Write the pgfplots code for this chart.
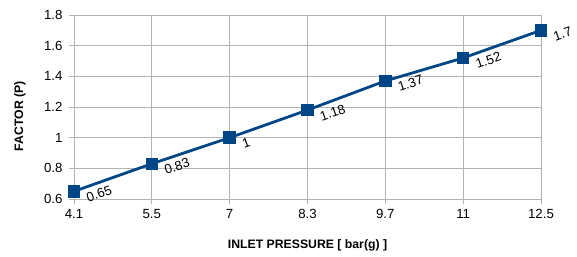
\documentclass[border=0pt]{standalone}
\usepackage{pgfplots}
\pgfplotsset{compat=1.18}
\usepackage{fontspec}
\setmainfont{Liberation Sans}
\definecolor{lineblue}{HTML}{004586}
\definecolor{gridgray}{HTML}{B3B3B3}
\begin{document}
\begin{tikzpicture}
\useasboundingbox (-74bp,-58bp) rectangle (503bp,199bp);
\begin{axis}[
  at={(0,0)}, anchor=south west,
  scale only axis, width=467bp, height=184bp,
  xmin=0, xmax=6, ymin=0.6, ymax=1.8,
  xtick={0,1,2,3,4,5,6},
  xticklabels={4.1,5.5,7,8.3,9.7,11,12.5},
  ytick={0.6,0.8,1,1.2,1.4,1.6,1.8},
  yticklabels={0.6,0.8,1,1.2,1.4,1.6,1.8},
  xtick pos=bottom, ytick pos=left,
  tick align=outside, major tick length=5bp,
  tick style={gridgray, line width=0.8pt},
  grid=major, grid style={gridgray, line width=0.8pt},
  axis line style={gridgray, line width=0.8pt},
  ticklabel style={font=\fontsize{13.3}{15}\selectfont, text=black},
  xticklabel style={yshift=-2bp},
  yticklabel style={xshift=-3bp},
  /pgf/number format/assume math mode=true,
  xlabel={\textbf{INLET PRESSURE [ bar(g) ]}},
  ylabel={\textbf{FACTOR (P)}},
  label style={font=\fontsize{12.3}{14}\selectfont},
  xlabel style={at={(axis description cs:0.5,0)}, anchor=center, yshift=-46bp},
  ylabel style={at={(axis description cs:0,0.45)}, anchor=center, yshift=54bp},
  nodes near coords,
  every node near coord/.append style={font=\fontsize{13.3}{15}\selectfont, text=black, anchor=west, xshift=12bp, yshift=-7bp, rotate=19, inner sep=1pt},
]
\addplot[color=lineblue, line width=2.8pt, mark=square*, mark size=5.7pt, mark options={fill=lineblue, draw=lineblue, line width=0pt}]
coordinates {(0,0.65) (1,0.83) (2,1) (3,1.18) (4,1.37) (5,1.52) (6,1.7)};
\end{axis}
\end{tikzpicture}
\end{document}
